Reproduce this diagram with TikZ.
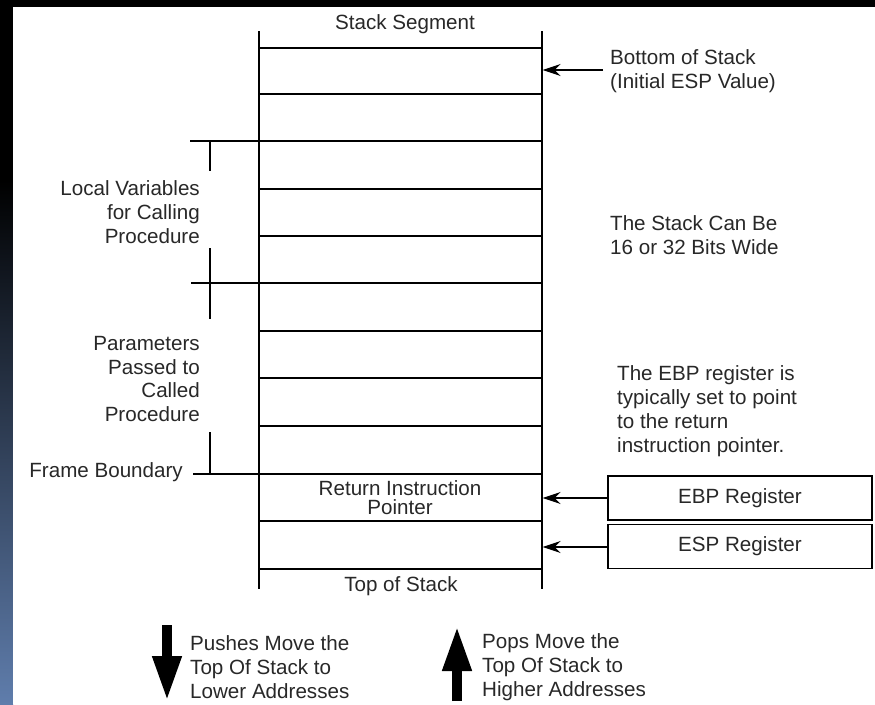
\documentclass[tikz,border=0pt]{standalone}
\usepackage{fontspec}
\setmainfont{Liberation Sans}
\usetikzlibrary{arrows.meta}
\definecolor{slateblue}{RGB}{95,125,172}
\definecolor{txtgray}{RGB}{40,40,40}
\begin{document}
\begin{tikzpicture}[x=1pt,y=-1pt,
  ln/.style={line width=1.3pt, black},
  txt/.style={font=\fontsize{20.6}{23.8}\selectfont, text=txtgray, inner sep=0pt},
  ptr/.style={line width=1.3pt, -{Stealth[length=18pt,width=12pt,inset=6pt]}},
  reg/.style={draw, line width=1.3pt, minimum width=264pt, minimum height=44pt, inner sep=0pt,
              font=\fontsize{20.6}{23.8}\selectfont, text=txtgray},
  bigarrow/.style={line width=10pt, -{Triangle[length=45pt,width=27pt]}}]
% background
\useasboundingbox (0,0) rectangle (875,704);
\fill[black] (0,0) rectangle (875,704);
\shade[top color=black, bottom color=slateblue] (0,180) rectangle (13,704);
\fill[white] (13,7) rectangle (875,704);
% stack frame
\draw[ln] (259,31) -- (259,589);
\draw[ln] (542,31) -- (542,589);
\foreach \yy in {48,94,189,236,331,378,426,521,569}
  \draw[ln] (259,\yy) -- (542,\yy);
\draw[ln] (190,141) -- (542,141);
\draw[ln] (191,283) -- (542,283);
\draw[ln] (193,474) -- (542,474);
% brackets
\draw[ln] (210,141) -- (210,171);
\draw[ln] (210,248) -- (210,319);
\draw[ln] (210,432) -- (210,474);
% texts in stack
\node[txt] (seg) at (405,24) {Stack Segment};
\node[txt, align=center, font=\fontsize{20.6}{19}\selectfont] (rip) at (400,498) {Return Instruction\\Pointer};
\node[txt] (tos) at (401,586) {Top of Stack};
% left labels
\node[txt, align=right, anchor=east] (locv) at (200,212) {Local Variables\\for Calling\\Procedure};
\node[txt, align=right, anchor=east] (parm) at (200,379) {Parameters\\Passed to\\Called\\Procedure};
\node[txt, anchor=east] (fb) at (183,472) {Frame Boundary};
% right labels
\node[txt, align=left, anchor=west] (bos) at (610,71) {Bottom of Stack\\(Initial ESP Value)};
\coordinate (bosT) at (542.7,70);
\draw[ptr, shorten <=7pt] (bos.west |- bosT) -- (bosT);
\node[txt, align=left, anchor=west] (wide) at (610,235) {The Stack Can Be\\16 or 32 Bits Wide};
\node[txt, align=left, anchor=west, font=\fontsize{20.6}{24}\selectfont] (note) at (617,411)
  {The EBP register is\\typically set to point\\to the return\\instruction pointer.};
% registers
\node[reg] (ebp) at (740,498) {EBP Register};
\node[reg] (esp) at (740,546.5) {ESP Register};
\coordinate (ebpT) at (542.7,498);
\coordinate (espT) at (542.7,547);
\draw[ptr] (ebp.west |- ebpT) -- (ebpT);
\draw[ptr] (esp.west |- espT) -- (espT);
% push / pop arrows
\coordinate (pushA) at (167,625);
\coordinate (pushB) at (167,701);
\coordinate (popA) at (457,701);
\coordinate (popB) at (457,626);
\draw[bigarrow] (pushA) -- (pushB);
\draw[bigarrow] (popA) -- (popB);
\node[txt, align=left, anchor=west] (push) at (190,667) {Pushes Move the\\Top Of Stack to\\Lower Addresses};
\node[txt, align=left, anchor=west] (pop) at (482,667) {Pops Move the\\Top Of Stack to\\Higher Addresses};
\end{tikzpicture}
\end{document}
